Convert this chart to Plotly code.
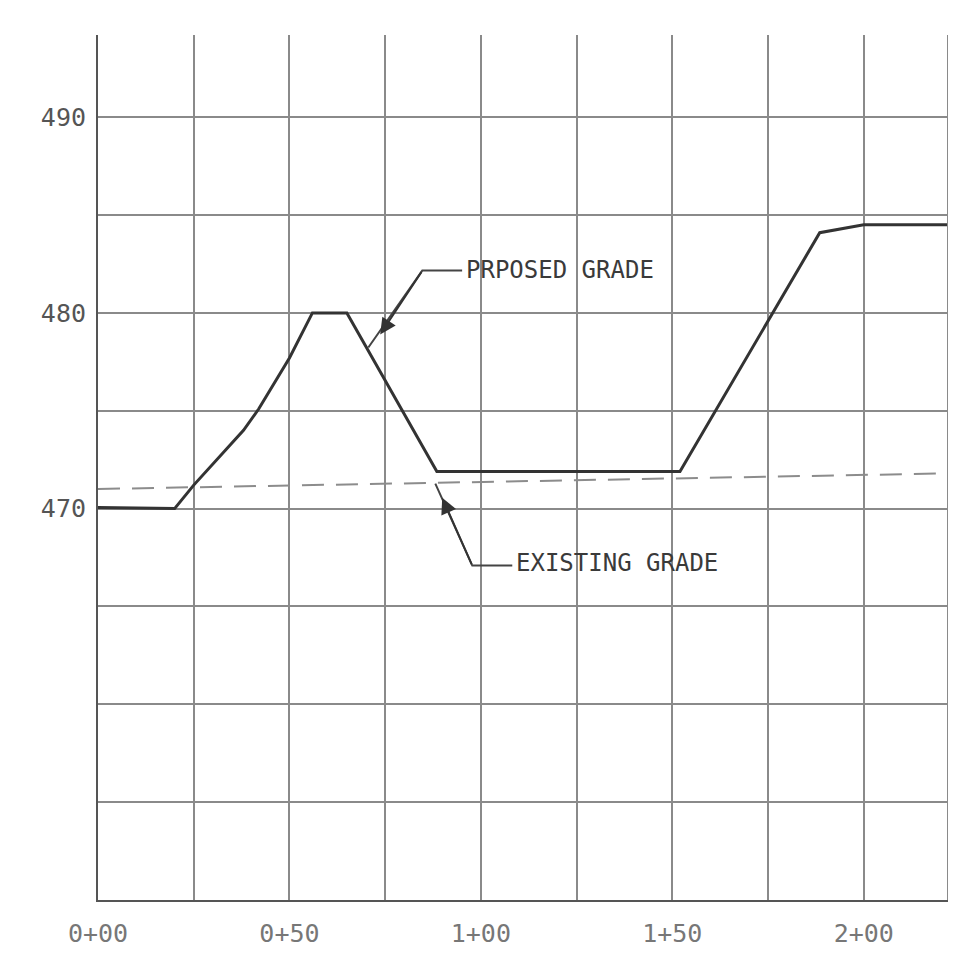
import plotly.graph_objects as go

# ---- data ----
station_proposed = [0, 20, 25, 38, 42, 50, 56, 65, 88.5, 152, 188.5, 200, 222]
elev_proposed = [470.05, 470.0, 471.2, 474.0, 475.1, 477.7, 480.0, 480.0, 471.9, 471.9, 484.1, 484.5, 484.5]

station_existing = [0, 222]
elev_existing = [471.0, 471.8]

x_tickvals = [0, 25, 50, 75, 100, 125, 150, 175, 200]
x_ticktext = ["0+00", "", "0+50", "", "1+00", "", "1+50", "", "2+00"]
y_tickvals = [450, 455, 460, 465, 470, 475, 480, 485, 490]
y_ticktext = ["", "", "", "", "470", "", "480", "", "490"]

X_MIN, X_MAX = 0, 222
Y_MIN, Y_MAX = 450, 494.2

# leader lines (tip, knee, end)
proposed_label = "PRPOSED GRADE"
proposed_leader_x = [70.6, 84.7, 95.1]
proposed_leader_y = [478.23, 482.16, 482.16]
proposed_arrow_tip = (73.7, 478.9)
proposed_text_pos = (95.6, 482.2)

existing_label = "EXISTING GRADE"
existing_leader_x = [88.1, 97.75, 108.2]
existing_leader_y = [471.28, 467.09, 467.09]
existing_arrow_tip = (89.9, 470.56)
existing_text_pos = (108.6, 467.2)

GRID = "#8a8a8a"
FONT = "DejaVu Sans Mono"

fig = go.Figure()

fig.add_trace(go.Scatter(
    x=station_existing, y=elev_existing, mode="lines",
    line=dict(color="#8c8c8c", width=2, dash="22px,12px"),
    showlegend=False, hoverinfo="skip"))

fig.add_trace(go.Scatter(
    x=station_proposed, y=elev_proposed, mode="lines",
    line=dict(color="#333333", width=3),
    showlegend=False, hoverinfo="skip"))

for lx, ly in [(proposed_leader_x, proposed_leader_y), (existing_leader_x, existing_leader_y)]:
    fig.add_trace(go.Scatter(
        x=lx, y=ly, mode="lines",
        line=dict(color="#444444", width=2),
        showlegend=False, hoverinfo="skip"))

annotations = []
for tip, lx, ly in [(proposed_arrow_tip, proposed_leader_x, proposed_leader_y),
                    (existing_arrow_tip, existing_leader_x, existing_leader_y)]:
    annotations.append(dict(
        x=tip[0], y=tip[1], ax=lx[1], ay=ly[1], xref="x", yref="y",
        axref="x", ayref="y", text="", showarrow=True,
        arrowhead=2, arrowsize=1.6, arrowwidth=2, arrowcolor="#333333"))

for label, pos in [(proposed_label, proposed_text_pos), (existing_label, existing_text_pos)]:
    annotations.append(dict(
        x=pos[0], y=pos[1], xref="x", yref="y", text=label, showarrow=False,
        xanchor="left", yanchor="middle",
        font=dict(family=FONT, size=24, color="#3a3a3a")))

fig.update_layout(
    width=970, height=963,
    margin=dict(l=90, r=30, t=27, b=71),
    paper_bgcolor="white", plot_bgcolor="white",
    annotations=annotations,
    shapes=[dict(type="line", xref="x", yref="paper", x0=X_MAX, x1=X_MAX, y0=0, y1=1,
                 line=dict(color=GRID, width=2))],
    xaxis=dict(
        range=[X_MIN, X_MAX], tickmode="array", tickvals=x_tickvals, ticktext=x_ticktext,
        showgrid=True, gridcolor=GRID, gridwidth=2,
        showline=True, linecolor="#555555", linewidth=2, zeroline=False,
        ticks="", ticklabelstandoff=10,
        tickfont=dict(family=FONT, size=25, color="#777777")),
    yaxis=dict(
        range=[Y_MIN, Y_MAX], tickmode="array", tickvals=y_tickvals, ticktext=y_ticktext,
        showgrid=True, gridcolor=GRID, gridwidth=2,
        showline=True, linecolor="#555555", linewidth=2, zeroline=False,
        ticks="", ticklabelstandoff=5,
        tickfont=dict(family=FONT, size=25, color="#555555")),
)

fig.write_html("out.html")
